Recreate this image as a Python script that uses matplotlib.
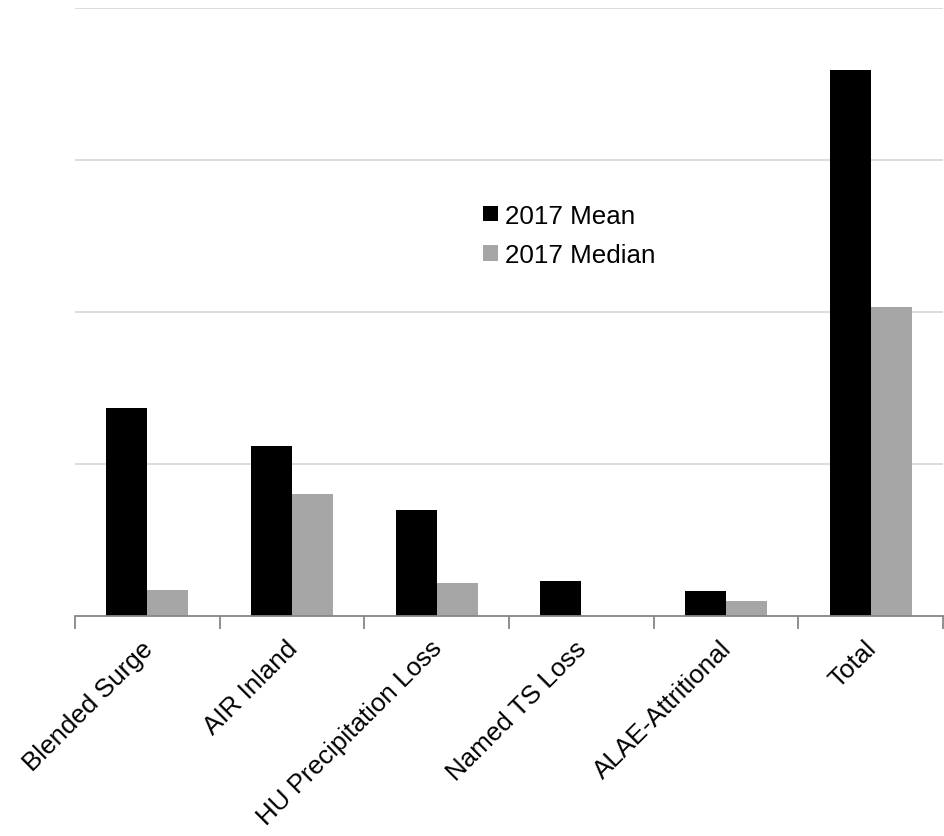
import matplotlib
matplotlib.use("Agg")
import matplotlib.pyplot as plt
import matplotlib.transforms as mtransforms
import numpy as np

# values, in units of one gridline step
categories = ["Blended Surge", "AIR Inland", "HU Precipitation Loss",
              "Named TS Loss", "ALAE-Attritional", "Total"]
mean_2017 = [1.367, 1.117, 0.698, 0.232, 0.166, 3.589]
median_2017 = [0.173, 0.804, 0.219, 0.0, 0.100, 2.035]
grid_levels = [0, 1, 2, 3, 4]

plt.rcParams['font.family'] = ['Liberation Sans', 'DejaVu Sans']

fig = plt.figure(figsize=(9.45, 8.37), dpi=100)
ax = fig.add_axes([75 / 945, 1 - 617.3 / 837, 868 / 945, 608.8 / 837])

x = np.arange(len(categories))
w = 0.283
ax.bar(x - w / 2, mean_2017, width=w, color="black", label="2017 Mean", zorder=3)
ax.bar(x + w / 2, median_2017, width=w, color="#a6a6a6", label="2017 Median", zorder=3)

ax.set_xlim(-0.5, len(categories) - 0.5)
ax.set_ylim(grid_levels[0], grid_levels[-1])
ax.set_yticks(grid_levels)
ax.yaxis.grid(True, color="#d9d9d9", linewidth=1.3, zorder=0)
ax.tick_params(axis="y", left=False, labelleft=False)

# category boundaries get the tick marks, centres get the labels
ax.set_xticks(np.arange(len(categories) + 1) - 0.5)
ax.tick_params(axis="x", which="major", length=9, width=1.3, color="#878787",
               labelbottom=False)
ax.set_xticks(x, minor=True)
ax.set_xticklabels(categories, minor=True, rotation=45, ha="right", va="top",
                   rotation_mode="anchor", fontsize=18.7)
ax.tick_params(axis="x", which="minor", length=0, pad=14)
shift = mtransforms.ScaledTranslation(-7 / 100, 0, fig.dpi_scale_trans)
for lbl in ax.get_xticklabels(minor=True):
    lbl.set_transform(lbl.get_transform() + shift)

for side in ["top", "right", "left"]:
    ax.spines[side].set_visible(False)
ax.spines["bottom"].set_color("#878787")
ax.spines["bottom"].set_linewidth(1.3)
ax.spines["bottom"].set_zorder(4)

ax.legend(loc="upper left", bbox_to_anchor=(0.4585, 0.695), frameon=False,
          fontsize=18.7, handlelength=0.55, handleheight=0.55,
          handletextpad=0.3, labelspacing=0.6, borderaxespad=0)

fig.savefig("out.png", dpi=100)
